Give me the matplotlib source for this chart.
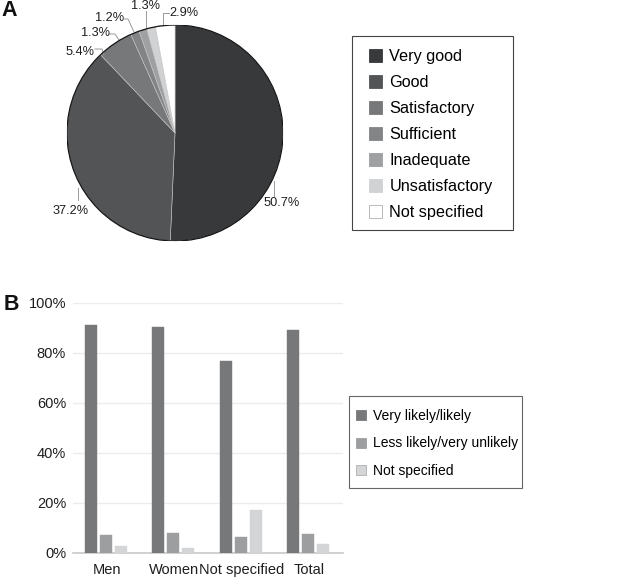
import numpy as np
import matplotlib
matplotlib.use("Agg")
import matplotlib.pyplot as plt
from matplotlib.patches import Patch, Rectangle, Circle

plt.rcParams["font.family"] = ["Liberation Sans", "DejaVu Sans"]

W, H = 633, 579          # output size in px (dpi 100)

# ---- panel A: rating of the service ----
ratings = ["Very good", "Good", "Satisfactory", "Sufficient",
           "Inadequate", "Unsatisfactory", "Not specified"]
rating_pct = [50.7, 37.2, 5.4, 1.3, 1.2, 1.3, 2.9]
rating_col = ["#37393a", "#535456", "#77787a", "#838486",
              "#9fa0a2", "#d1d2d3", "#ffffff"]

# ---- panel B: likelihood by group ----
groups = ["Men", "Women", "Not specified", "Total"]
likely = [91.1, 90.6, 76.9, 89.4]
unlikely = [7.3, 8.1, 6.5, 7.7]
not_spec = [2.7, 2.1, 17.3, 3.7]
answers = ["Very likely/likely", "Less likely/very unlikely", "Not specified"]
answer_col = ["#77787a", "#9d9ea0", "#d4d5d6"]
yticks = [0, 20, 40, 60, 80, 100]

INK = "#1e1e1e"
LEAD = "#9a9a9a"


def fig_rect(l, t, r, b):
    """pixel box (left, top, right, bottom) -> figure fraction [x, y, w, h]"""
    return [l / W, 1 - b / H, (r - l) / W, (b - t) / H]


fig = plt.figure(figsize=(W / 100, H / 100), dpi=100)
fig.patch.set_facecolor("white")

# ================================================================ panel A ====
CX, CY, R = 175, 133, 108
axA = fig.add_axes(fig_rect(CX - R, CY - R, CX + R, CY + R))
axA.pie(rating_pct, colors=rating_col, startangle=90, counterclock=False,
        radius=1, wedgeprops=dict(edgecolor="#c4c4c4", linewidth=0.4))
axA.add_patch(Circle((0, 0), 1, fill=False, ec="#151515", lw=0.9, zorder=5))
axA.set_xlim(-1, 1); axA.set_ylim(-1, 1)
axA.axis("off")


def px(x, y):
    return ((x - CX) / R, (CY - y) / R)


# label centre + leader polyline, in px
pie_labels = [
    ((282, 203), [(274, 181), (274, 196)]),
    ((71, 211), [(78, 188), (78, 200)]),
    ((80, 52), [(95, 49), (102, 49), (104, 55)]),
    ((95, 33), [(109, 34), (115, 34), (119, 40)]),
    ((110, 18), [(124, 19), (128, 19), (134, 32)]),
    ((146, 6), [(146, 11), (146, 28)]),
    ((184, 13), [(169, 13), (163, 13), (163, 25)]),
]
for pct, (txy, path) in zip(rating_pct, pie_labels):
    axA.text(*px(*txy), f"{pct}%", ha="center", va="center", fontsize=9.2,
             color=INK, clip_on=False)
    xs, ys = zip(*[px(*p) for p in path])
    axA.plot(xs, ys, color=LEAD, lw=0.7, clip_on=False)

hA = [Patch(facecolor=c, edgecolor=("#b0b0b0" if c == "#ffffff" else c), lw=0.6)
      for c in rating_col]
fig.legend(hA, ratings, loc="upper left", bbox_to_anchor=(369 / W, 1 - 49 / H),
           frameon=False, borderpad=0, borderaxespad=0, fontsize=11.7,
           handlelength=0.8, handleheight=0.8, handletextpad=0.45,
           labelspacing=0.68)
fig.patches.append(Rectangle((352 / W, 1 - 230 / H), 161 / W, 194 / H,
                             transform=fig.transFigure, fill=False,
                             ec="#444444", lw=0.8))
fig.text(9 / W, 1 - 10 / H, "A", fontsize=15.5, fontweight="bold",
         ha="center", va="center", color="#111111")

# ================================================================ panel B ====
axB = fig.add_axes(fig_rect(73, 303, 343, 553))
x = np.arange(len(groups))
step, bw, shift = 0.22, 0.18, -0.015
for i, (vals, c) in enumerate(zip([likely, unlikely, not_spec], answer_col)):
    axB.bar(x + shift + (i - 1) * step, vals, width=bw, color=c,
            edgecolor=c, lw=0.3, zorder=3)
axB.set_xlim(-0.5, len(groups) - 0.5)
axB.set_ylim(0, 100)
axB.set_yticks(yticks, [f"{v}%" for v in yticks])
axB.set_xticks(x, groups)
axB.yaxis.grid(True, color="#ececec", lw=1.0, zorder=0)
axB.set_axisbelow(True)
for s in ("top", "right", "left"):
    axB.spines[s].set_visible(False)
axB.spines["bottom"].set_color("#c8c8c8")
axB.spines["bottom"].set_linewidth(1.2)
axB.tick_params(length=0, labelsize=10.5, colors=INK)
axB.tick_params(axis="y", pad=5)
axB.tick_params(axis="x", pad=7)

hB = [Patch(facecolor=c, edgecolor=("#b0b0b0" if i == 2 else c), lw=0.6)
      for i, c in enumerate(answer_col)]
fig.legend(hB, answers, loc="upper left", bbox_to_anchor=(356 / W, 1 - 409 / H),
           frameon=False, borderpad=0, borderaxespad=0, fontsize=10,
           handlelength=0.72, handleheight=0.72, handletextpad=0.5,
           labelspacing=0.97)
fig.patches.append(Rectangle((349 / W, 1 - 488 / H), 173 / W, 92 / H,
                             transform=fig.transFigure, fill=False,
                             ec="#666666", lw=0.8))
fig.text(11 / W, 1 - 304 / H, "B", fontsize=15.5, fontweight="bold",
         ha="center", va="center", color="#111111")

fig.savefig("out.png", dpi=100, facecolor="white")
